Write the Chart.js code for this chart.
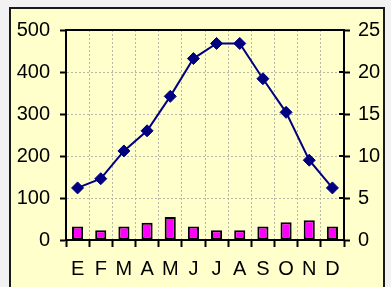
<!DOCTYPE html>
<html>
<head>
<meta charset="utf-8">
<script src="https://cdn.jsdelivr.net/npm/chart.js@4/dist/chart.umd.min.js"></script>
<style>
  html, body { margin: 0; padding: 0; background: #f2f2f2; }
  #wrap { width: 391px; height: 287px; position: relative; }
</style>
</head>
<body>
<div id="wrap"><canvas id="climate"></canvas></div>
<script>
'use strict';

const months = ['E', 'F', 'M', 'A', 'M', 'J', 'J', 'A', 'S', 'O', 'N', 'D'];
const precipitation = [32, 23, 32, 41, 55, 32, 23, 23, 32, 42, 47, 32];
const temperature = [6.2, 7.3, 10.6, 13.0, 17.1, 21.6, 23.4, 23.4, 19.2, 15.2, 9.5, 6.2];

const fontFamily = '"Liberation Sans", Arial, Helvetica, sans-serif';

// yellow panel with a dark frame, plus the black line on top of the plot
const framePlugin = {
  id: 'frame',
  beforeDraw(chart) {
    const ctx = chart.ctx;
    ctx.save();
    ctx.fillStyle = '#ffffcc';
    ctx.fillRect(10, 8, 374, 290);
    ctx.strokeStyle = '#1a1a1a';
    ctx.lineWidth = 2;
    ctx.strokeRect(10, 8, 374, 290);
    ctx.restore();
  },
  afterDraw(chart) {
    const a = chart.chartArea;
    const ctx = chart.ctx;
    ctx.save();
    ctx.strokeStyle = '#000';
    ctx.lineWidth = 2;
    ctx.beginPath();
    ctx.moveTo(a.left, a.top);
    ctx.lineTo(a.right, a.top);
    ctx.stroke();
    // right axis ticks also poke into the plot
    const s = chart.scales.y1;
    s.ticks.forEach((t) => {
      const py = Math.round(s.getPixelForValue(t.value));
      ctx.beginPath();
      ctx.moveTo(a.right - 5, py);
      ctx.lineTo(a.right, py);
      ctx.stroke();
    });
    ctx.restore();
  },
};

new Chart(document.getElementById('climate'), {
  type: 'bar',
  data: {
    labels: months,
    datasets: [
      {
        type: 'line',
        data: temperature,
        yAxisID: 'y1',
        borderColor: '#000080',
        backgroundColor: '#000080',
        borderWidth: 2,
        tension: 0,
        pointStyle: 'rectRot',
        pointRadius: 6,
        pointBorderWidth: 1,
        order: 1,
      },
      {
        type: 'bar',
        data: precipitation,
        yAxisID: 'y',
        backgroundColor: '#ff00ff',
        borderColor: '#000',
        borderWidth: 2,
        borderSkipped: false,
        barPercentage: 0.48,
        categoryPercentage: 1,
        order: 2,
      },
    ],
  },
  options: {
    responsive: true,
    maintainAspectRatio: false,
    animation: false,
    layout: { padding: { top: 30, left: 0, right: 0, bottom: 0 } },
    plugins: {
      legend: { display: false },
      tooltip: { enabled: false },
    },
    scales: {
      x: {
        offset: true,
        afterFit: (s) => { s.height = 47; },
        grid: {
          offset: true,
          color: '#b8b8a8',
          tickColor: '#000',
          tickLength: 7,
          tickWidth: 2,
        },
        border: { color: '#000', width: 2, dash: [2, 2] },
        ticks: {
          padding: 10,
          color: '#000',
          font: { family: fontFamily, size: 20 },
        },
      },
      y: {
        position: 'left',
        min: 0,
        max: 500,
        afterFit: (s) => { s.width = 66; },
        grid: {
          color: '#b8b8a8',
          tickColor: '#000',
          tickLength: 6,
          tickWidth: 2,
        },
        border: { color: '#000', width: 2, dash: [2, 2] },
        ticks: {
          stepSize: 100,
          padding: 10,
          color: '#000',
          font: { family: fontFamily, size: 20 },
        },
      },
      y1: {
        position: 'right',
        min: 0,
        max: 25,
        afterFit: (s) => { s.width = 47; },
        grid: {
          drawOnChartArea: false,
          color: '#000',
          tickLength: 6,
          tickWidth: 2,
        },
        border: { color: '#000', width: 2 },
        ticks: {
          stepSize: 5,
          padding: 8,
          color: '#000',
          font: { family: fontFamily, size: 20 },
        },
      },
    },
  },
  plugins: [framePlugin],
});
</script>
</body>
</html>
